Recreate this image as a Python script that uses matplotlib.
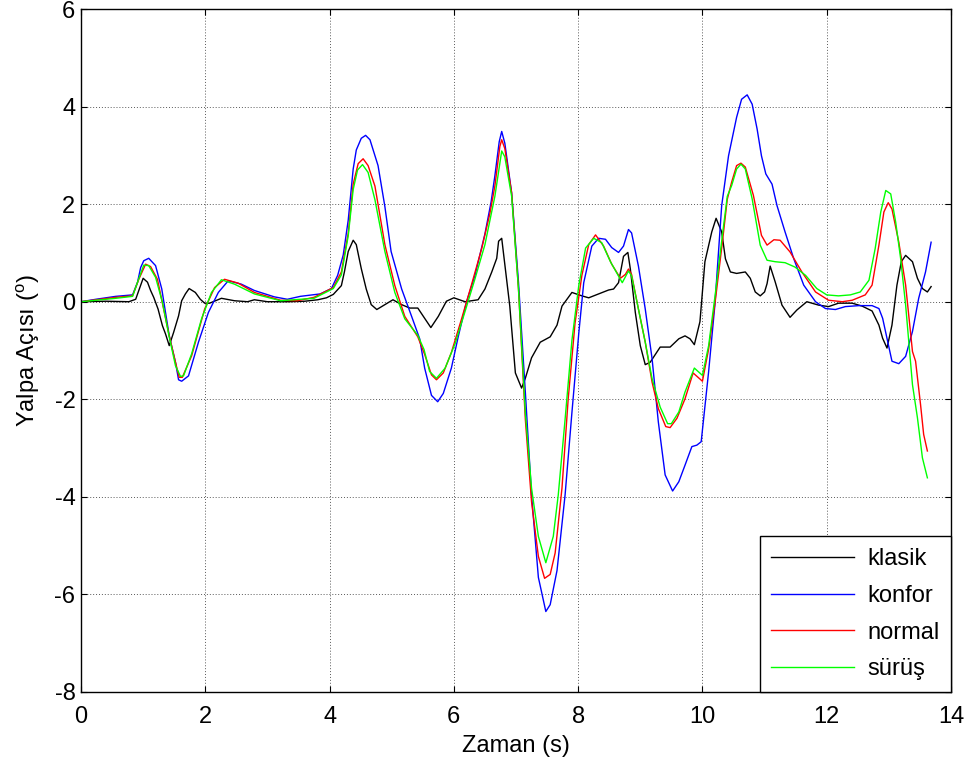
import matplotlib
matplotlib.use("Agg")
import matplotlib.pyplot as plt

plt.rcParams['font.family'] = ['Liberation Sans', 'DejaVu Sans']
plt.rcParams['mathtext.fontset'] = 'custom'
plt.rcParams['mathtext.rm'] = 'Liberation Sans'
plt.rcParams['mathtext.it'] = 'Liberation Sans'
plt.rcParams['axes.unicode_minus'] = False

# --- klasik ---
klasik_t = [0, 0.4, 0.77, 0.88, 0.93, 1.0, 1.07, 1.12, 1.17, 1.24, 1.31, 1.36, 1.42, 1.49, 1.57,
            1.62, 1.68, 1.74, 1.84, 1.92, 1.99, 2.07, 2.26, 2.47, 2.68, 2.79, 3.0, 3.32, 3.6, 3.81,
            3.95, 4.06, 4.19, 4.24, 4.30, 4.38, 4.43, 4.51, 4.59, 4.67, 4.76, 4.89, 5.02, 5.16, 5.29,
            5.42, 5.53, 5.63, 5.75, 5.88, 6.0, 6.18, 6.39, 6.5, 6.61, 6.69, 6.72, 6.77, 6.9, 6.99,
            7.09, 7.15, 7.25, 7.39, 7.55, 7.66, 7.74, 7.90, 8.06, 8.17, 8.33, 8.49, 8.57, 8.65, 8.73,
            8.80, 8.84, 8.92, 9.0, 9.08, 9.16, 9.32, 9.48, 9.62, 9.72, 9.80, 9.87, 9.96, 10.04, 10.15,
            10.22, 10.31, 10.37, 10.45, 10.55, 10.69, 10.77, 10.85, 10.93, 11.0, 11.04, 11.09, 11.17,
            11.28, 11.41, 11.52, 11.68, 11.87, 12.03, 12.19, 12.41, 12.57, 12.73, 12.84, 12.9, 12.97,
            13.05, 13.13, 13.2, 13.27, 13.38, 13.46, 13.54, 13.62, 13.68]
klasik_y = [0, 0.01, 0, 0.05, 0.23, 0.48, 0.40, 0.23, 0.09, -0.15, -0.49, -0.66, -0.90, -0.63, -0.29,
            0.02, 0.16, 0.27, 0.19, 0.05, -0.03, -0.03, 0.07, 0.02, 0, 0.04, 0, 0, 0.01, 0.04,
            0.08, 0.15, 0.33, 0.62, 1.03, 1.26, 1.17, 0.68, 0.26, -0.06, -0.16, -0.06, 0.04, -0.06, -0.13,
            -0.13, -0.34, -0.53, -0.30, 0.01, 0.08, 0, 0.04, 0.26, 0.61, 0.89, 1.24, 1.30, -0.09, -1.46,
            -1.77, -1.57, -1.15, -0.83, -0.72, -0.48, -0.09, 0.19, 0.12, 0.08, 0.16, 0.24, 0.26, 0.39, 0.93,
            1.01, 0.67, -0.22, -0.9, -1.29, -1.24, -0.93, -0.93, -0.76, -0.70, -0.76, -0.88, -0.41, 0.82, 1.43,
            1.71, 1.43, 0.88, 0.61, 0.58, 0.61, 0.48, 0.20, 0.12, 0.20, 0.37, 0.73, 0.41,
            -0.07, -0.32, -0.17, 0, -0.07, -0.10, -0.03, -0.03, -0.09, -0.19, -0.48, -0.75, -0.95,
            -0.48, 0.34, 0.82, 0.95, 0.82, 0.48, 0.27, 0.20, 0.31]

# --- konfor ---
konfor_t = [0, 0.24, 0.56, 0.83, 0.91, 0.96, 1.01, 1.09, 1.20, 1.30, 1.42, 1.52, 1.57, 1.62, 1.73,
            1.89, 2.05, 2.21, 2.37, 2.58, 2.79, 3.11, 3.32, 3.53, 3.85, 4.03, 4.13, 4.22, 4.30, 4.38,
            4.43, 4.51, 4.58, 4.65, 4.78, 4.89, 4.99, 5.16, 5.32, 5.45, 5.53, 5.64, 5.74, 5.83, 5.96,
            6.07, 6.2, 6.34, 6.5, 6.60, 6.66, 6.73, 6.77, 6.82, 6.93, 7.04, 7.15, 7.25, 7.36, 7.48,
            7.55, 7.66, 7.79, 7.90, 8.01, 8.09, 8.22, 8.33, 8.44, 8.54, 8.65, 8.73, 8.81, 8.86, 8.97,
            9.08, 9.19, 9.29, 9.40, 9.52, 9.62, 9.72, 9.83, 9.91, 9.98, 10.10, 10.2, 10.31, 10.42, 10.55,
            10.63, 10.72, 10.80, 10.88, 10.95, 11.02, 11.12, 11.2, 11.33, 11.47, 11.63, 11.82, 11.98, 12.14,
            12.3, 12.52, 12.73, 12.84, 12.9, 13.05, 13.16, 13.27, 13.38, 13.48, 13.59, 13.68]
konfor_y = [0, 0.05, 0.11, 0.14, 0.40, 0.70, 0.84, 0.89, 0.74, 0.26, -0.70, -1.24, -1.60, -1.63, -1.52,
            -0.83, -0.22, 0.19, 0.43, 0.36, 0.23, 0.10, 0.05, 0.11, 0.16, 0.27, 0.54, 0.96, 1.67, 2.72,
            3.11, 3.35, 3.41, 3.32, 2.79, 1.95, 1.03, 0.26, -0.30, -0.76, -1.36, -1.92, -2.05, -1.88, -1.36,
            -0.72, -0.02, 0.54, 1.39, 2.05, 2.58, 3.28, 3.49, 3.25, 2.23, 0.40, -1.85, -3.96, -5.65, -6.35,
            -6.21, -5.51, -3.96, -2.27, -0.65, 0.39, 1.14, 1.30, 1.28, 1.11, 1.01, 1.14, 1.48, 1.41, 0.73,
            -0.15, -1.17, -2.46, -3.55, -3.88, -3.69, -3.35, -2.97, -2.94, -2.87, -1.43, -0.07, 1.97, 2.99, 3.78,
            4.15, 4.24, 4.05, 3.54, 2.99, 2.62, 2.41, 1.97, 1.43, 0.88, 0.34, 0, -0.14, -0.16,
            -0.10, -0.08, -0.08, -0.14, -0.34, -1.22, -1.27, -1.12, -0.61, 0.07, 0.61, 1.22]

# --- normal ---
normal_t = [0, 0.56, 0.83, 0.93, 1.04, 1.12, 1.23, 1.33, 1.42, 1.52, 1.58, 1.63, 1.78, 1.99, 2.15,
            2.31, 2.53, 2.79, 3.21, 3.48, 3.75, 4.06, 4.19, 4.3, 4.38, 4.46, 4.54, 4.62, 4.73, 4.89,
            5.05, 5.21, 5.42, 5.53, 5.64, 5.72, 5.83, 5.96, 6.12, 6.28, 6.45, 6.58, 6.66, 6.74, 6.77,
            6.82, 6.93, 7.04, 7.15, 7.25, 7.36, 7.46, 7.55, 7.63, 7.74, 7.84, 7.95, 8.06, 8.17, 8.28,
            8.41, 8.54, 8.68, 8.76, 8.81, 8.86, 8.97, 9.08, 9.19, 9.29, 9.41, 9.48, 9.59, 9.72, 9.85,
            10.0, 10.1, 10.21, 10.32, 10.40, 10.47, 10.55, 10.62, 10.69, 10.82, 10.95, 11.04, 11.15, 11.25,
            11.41, 11.60, 11.82, 12.03, 12.25, 12.41, 12.62, 12.73, 12.84, 12.92, 12.99, 13.05, 13.16, 13.27,
            13.38, 13.43, 13.51, 13.56, 13.62]
normal_y = [0, 0.09, 0.12, 0.46, 0.77, 0.72, 0.46, -0.15, -0.70, -1.24, -1.55, -1.55, -1.11, -0.15, 0.29,
            0.46, 0.38, 0.19, 0.03, 0.02, 0.09, 0.29, 0.61, 1.40, 2.41, 2.83, 2.93, 2.79, 2.37, 1.17,
            0.33, -0.30, -0.72, -1.08, -1.50, -1.60, -1.46, -1.04, -0.37, 0.33, 1.10, 1.81, 2.37, 3.18, 3.32,
            3.14, 2.23, 0.26, -2.41, -4.10, -5.22, -5.67, -5.59, -5.15, -3.82, -1.99, -0.44, 0.54, 1.17, 1.37,
            1.14, 0.77, 0.48, 0.56, 0.67, 0.56, -0.15, -0.83, -1.65, -2.19, -2.56, -2.58, -2.39, -1.99, -1.46,
            -1.63, -0.97, 0.05, 1.21, 2.10, 2.45, 2.79, 2.84, 2.76, 2.18, 1.36, 1.16, 1.27, 1.26,
            1.02, 0.61, 0.20, 0.03, 0, 0.03, 0.14, 0.34, 1.16, 1.84, 2.03, 1.90, 1.22, 0.34,
            -1.02, -1.22, -2.11, -2.72, -3.06]

# --- sürüş ---
surus_t = [0, 0.56, 0.83, 0.91, 1.01, 1.09, 1.20, 1.31, 1.41, 1.52, 1.60, 1.65, 1.78, 1.94, 2.10,
           2.26, 2.47, 2.79, 3.21, 3.75, 4.06, 4.19, 4.3, 4.38, 4.45, 4.53, 4.62, 4.73, 4.89, 5.05,
           5.21, 5.42, 5.52, 5.61, 5.72, 5.86, 6.02, 6.18, 6.34, 6.5, 6.66, 6.77, 6.82, 6.93, 7.04,
           7.15, 7.25, 7.36, 7.48, 7.60, 7.68, 7.79, 7.90, 8.01, 8.12, 8.25, 8.38, 8.52, 8.71, 8.81,
           8.86, 8.97, 9.08, 9.19, 9.32, 9.44, 9.50, 9.62, 9.72, 9.87, 10.0, 10.1, 10.21, 10.32, 10.40,
           10.47, 10.55, 10.62, 10.69, 10.80, 10.93, 11.04, 11.17, 11.33, 11.49, 11.66, 11.84, 12.0, 12.19,
           12.38, 12.54, 12.68, 12.78, 12.87, 12.95, 13.03, 13.11, 13.19, 13.27, 13.38, 13.46, 13.54, 13.62]
surus_y = [0, 0.07, 0.11, 0.40, 0.75, 0.74, 0.50, -0.01, -0.66, -1.31, -1.53, -1.52, -1.07, -0.35, 0.19,
           0.45, 0.36, 0.16, 0.02, 0.07, 0.27, 0.55, 1.35, 2.30, 2.70, 2.81, 2.65, 2.09, 1.03, 0.19,
           -0.35, -0.69, -0.98, -1.43, -1.57, -1.36, -0.86, -0.20, 0.47, 1.17, 2.16, 3.09, 2.97, 2.16, 0.26,
           -2.27, -3.82, -4.81, -5.35, -4.81, -3.96, -2.41, -0.79, 0.33, 1.10, 1.30, 1.21, 0.82, 0.39, 0.63,
           0.53, -0.15, -0.83, -1.58, -2.16, -2.50, -2.50, -2.26, -1.85, -1.36, -1.51, -0.90, 0.19, 1.35, 2.16,
           2.38, 2.72, 2.82, 2.72, 2.11, 1.16, 0.85, 0.82, 0.80, 0.71, 0.54, 0.27, 0.14, 0.12,
           0.14, 0.20, 0.44, 1.09, 1.84, 2.28, 2.21, 1.63, 0.88, -0.07, -1.70, -2.38, -3.20, -3.61]

series_labels = ['klasik', 'konfor', 'normal', 'sürüş']
series_colors = ['#000000', '#0000ff', '#ff0000', '#00ff00']
x_ticks = [0, 2, 4, 6, 8, 10, 12, 14]
y_ticks = [-8, -6, -4, -2, 0, 2, 4, 6]

FS = 17

fig = plt.figure(figsize=(9.75, 7.71), dpi=100)
ax = fig.add_axes([81 / 975, 1 - 692 / 771, (951 - 81) / 975, (692 - 9) / 771])

for t, y, lab, col in zip([klasik_t, konfor_t, normal_t, surus_t],
                          [klasik_y, konfor_y, normal_y, surus_y],
                          series_labels, series_colors):
    ax.plot(t, y, color=col, lw=1.0, label=lab)

ax.set_xlim(0, 14)
ax.set_ylim(-8, 6)
ax.set_xticks(x_ticks)
ax.set_yticks(y_ticks)
ax.grid(True, color='0.35', linestyle=(0, (1, 2)), linewidth=0.7)
ax.tick_params(direction='in', length=4, width=0.8, top=True, right=True,
               labelsize=FS, colors='k')
ax.tick_params(axis='x', pad=10)
ax.tick_params(axis='y', pad=4)
for s in ax.spines.values():
    s.set_linewidth(1.0)

ax.set_xlabel('Zaman (s)', fontsize=FS, labelpad=5)
ax.set_ylabel(r'Yalpa Açısı ($^{\mathrm{o}}$)', fontsize=FS, labelpad=9)

leg = ax.legend(loc='lower right', borderaxespad=0, fontsize=FS, fancybox=False,
                edgecolor='k', framealpha=1, handlelength=3.5, handletextpad=0.55,
                labelspacing=0.62, borderpad=0.5)
leg.get_frame().set_linewidth(1.0)

fig.savefig('out.png', dpi=100)
